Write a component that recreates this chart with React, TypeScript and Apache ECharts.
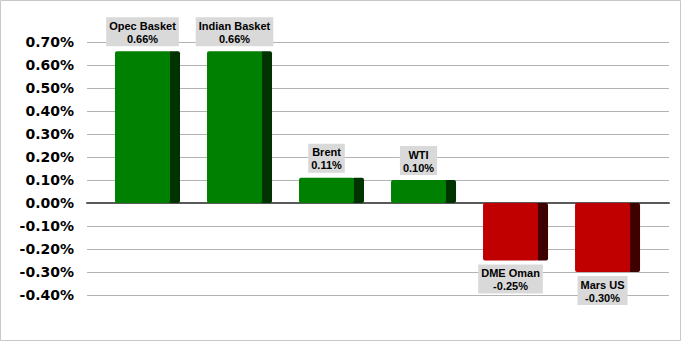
import React, { useEffect, useRef } from "react";
import * as echarts from "echarts";

const categories = ["Opec Basket", "Indian Basket", "Brent", "WTI", "DME Oman", "Mars US"];
const values = [0.66, 0.66, 0.11, 0.1, -0.25, -0.3];
const yTicks = { min: -40, max: 70, interval: 10 };

export default function App() {
  const ref = useRef<HTMLDivElement>(null);
  useEffect(() => {
    document.body.style.margin = "0";
    const chart = echarts.init(ref.current!, null, { renderer: "svg" });
    const data = values.map((v, i) => [i, v * 100]);
    chart.setOption({
      animation: false,
      backgroundColor: "#ffffff",
      graphic: [
        {
          type: "rect",
          shape: { x: 0.5, y: 0.5, width: 680, height: 340 },
          style: { fill: "none", stroke: "#c8c8c8", lineWidth: 1 },
          z: 100,
        },
      ],
      grid: { left: 87, right: 12, top: 42, bottom: 46 },
      xAxis: {
        type: "value",
        min: -0.6576,
        max: 5.668,
        axisLabel: { show: false },
        axisTick: { show: false },
        splitLine: { show: false },
        axisLine: { show: true, onZero: true, lineStyle: { color: "#595959", width: 2 } },
      },
      yAxis: {
        type: "value",
        min: yTicks.min,
        max: yTicks.max,
        interval: yTicks.interval,
        axisLine: { show: false },
        axisTick: { show: false },
        axisLabel: {
          formatter: (v: number) => (v / 100).toFixed(2) + "%",
          fontFamily: "DejaVu Sans",
          fontWeight: "bold",
          fontSize: 14,
          color: "#000",
          margin: 13,
        },
        splitLine: { lineStyle: { color: "#b3b3b3", width: 1 } },
      },
      series: [
        {
          type: "custom",
          data,
          renderItem: (params: any, api: any) => {
            const i = api.value(0);
            const v = api.value(1);
            const unit = api.size([1, 0])[0];
            const top = api.coord([i, v]);
            const base = api.coord([i, 0]);
            const cx = top[0];
            const total = (unit * 65) / 92;
            const front = (unit * 55) / 92;
            const left = cx - total / 2;
            const y0 = Math.min(top[1], base[1]);
            const h = Math.abs(top[1] - base[1]);
            const pos = v >= 0;
            const faceColor = pos ? "#008000" : "#c00000";
            const sideColor = pos ? "#003300" : "#3f0000";
            const fcx = left + front / 2;
            const name = categories[params.dataIndex];
            const txt = name + "\n" + (v / 100).toFixed(2) + "%";
            return {
              type: "group",
              children: [
                {
                  type: "rect",
                  shape: { x: left + front - 2, y: y0, width: total - front + 2, height: h, r: 2 },
                  style: { fill: sideColor },
                },
                {
                  type: "rect",
                  shape: { x: left, y: y0, width: front, height: h, r: 2 },
                  style: { fill: faceColor },
                },
                {
                  type: "text",
                  x: fcx,
                  y: pos ? top[1] - 5 : top[1] + 4,
                  style: {
                    text: txt,
                    align: "center",
                    verticalAlign: pos ? "bottom" : "top",
                    fontFamily: "Liberation Sans",
                    fontWeight: "bold",
                    fontSize: 11,
                    lineHeight: 13,
                    fill: "#000",
                    backgroundColor: "#d9d9d9",
                    padding: [2, 3, 1, 3],
                  },
                },
              ],
            };
          },
        },
      ],
    });
    return () => chart.dispose();
  }, []);
  return <div ref={ref} style={{ position: "absolute", left: 0, top: 0, width: 681, height: 341 }} />;
}
